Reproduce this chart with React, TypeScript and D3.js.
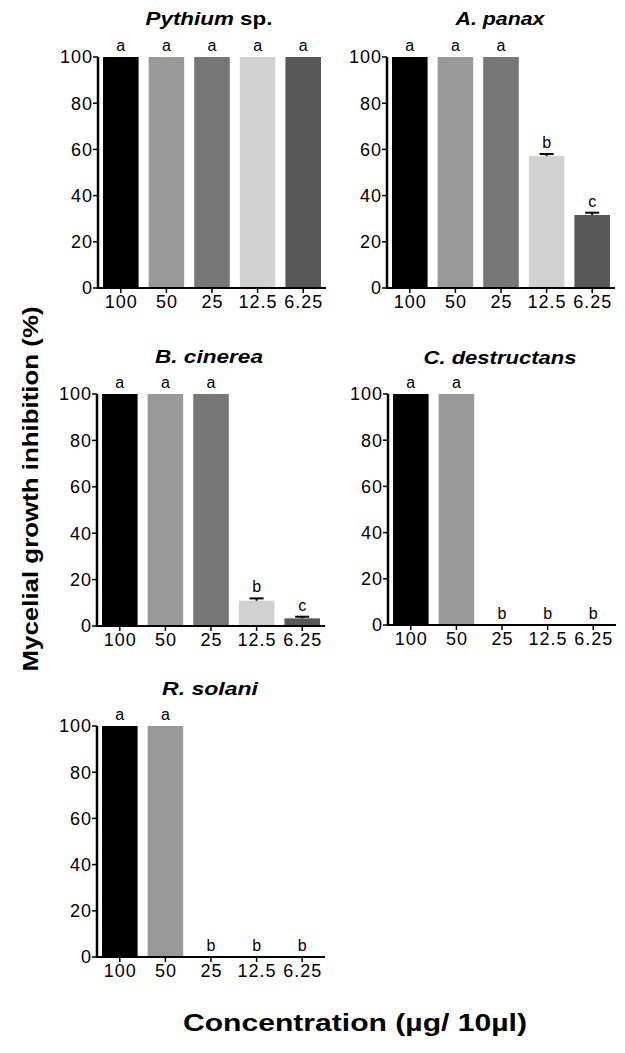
import React from "react";
import * as d3 from "d3";

const concentrations = ["100", "50", "25", "12.5", "6.25"];
const barColors = ["#000000", "#999999", "#777777", "#d2d2d2", "#585858"];

const pythiumValues = [100, 100, 100, 100, 100];
const pythiumErrors = [0, 0, 0, 0, 0];
const pythiumLetters = ["a", "a", "a", "a", "a"];

const panaxValues = [100, 100, 100, 57.1, 31.6];
const panaxErrors = [0, 0, 0, 0.9, 1.0];
const panaxLetters = ["a", "a", "a", "b", "c"];

const cinereaValues = [100, 100, 100, 10.9, 3.3];
const cinereaErrors = [0, 0, 0, 1.0, 0.7];
const cinereaLetters = ["a", "a", "a", "b", "c"];

const destructansValues = [100, 100, 0, 0, 0];
const destructansErrors = [0, 0, 0, 0, 0];
const destructansLetters = ["a", "a", "b", "b", "b"];

const solaniValues = [100, 100, 0, 0, 0];
const solaniErrors = [0, 0, 0, 0, 0];
const solaniLetters = ["a", "a", "b", "b", "b"];

const yTicks = [0, 20, 40, 60, 80, 100];

type Panel = {
  italic: string;
  plain: string;
  values: number[];
  errors: number[];
  letters: string[];
  x0: number;
  yTop: number;
  yBottom: number;
  titleCx: number;
  titleY: number;
  titleW: number;
};

const panels: Panel[] = [
  { italic: "Pythium", plain: " sp.", values: pythiumValues, errors: pythiumErrors, letters: pythiumLetters, x0: 98, yTop: 57, yBottom: 288, titleCx: 209, titleY: 25, titleW: 127 },
  { italic: "A. panax", plain: "", values: panaxValues, errors: panaxErrors, letters: panaxLetters, x0: 387, yTop: 57, yBottom: 288, titleCx: 500, titleY: 25, titleW: 89 },
  { italic: "B. cinerea", plain: "", values: cinereaValues, errors: cinereaErrors, letters: cinereaLetters, x0: 97, yTop: 394, yBottom: 626, titleCx: 209, titleY: 363, titleW: 108 },
  { italic: "C. destructans", plain: "", values: destructansValues, errors: destructansErrors, letters: destructansLetters, x0: 388, yTop: 394, yBottom: 625, titleCx: 500, titleY: 364, titleW: 153 },
  { italic: "R. solani", plain: "", values: solaniValues, errors: solaniErrors, letters: solaniLetters, x0: 97, yTop: 726, yBottom: 957, titleCx: 210, titleY: 695, titleW: 96 },
];

const FONT = "Liberation Sans, Arial, sans-serif";

function BarPanel({ p }: { p: Panel }) {
  const x = d3
    .scaleBand<string>()
    .domain(concentrations)
    .range([p.x0, p.x0 + 228])
    .paddingInner(0.22)
    .paddingOuter(0.11);
  const y = d3.scaleLinear().domain([0, 100]).range([p.yBottom, p.yTop]);
  const bw = x.bandwidth();
  return (
    <g>
      <text
        x={p.titleCx}
        y={p.titleY}
        textAnchor="middle"
        fontFamily={FONT}
        fontWeight="bold"
        fontSize={18}
        textLength={p.titleW}
        lengthAdjust="spacingAndGlyphs"
      >
        <tspan fontStyle="italic">{p.italic}</tspan>
        {p.plain ? <tspan>{p.plain}</tspan> : null}
      </text>
      {concentrations.map((c, i) => {
        const v = p.values[i];
        const e = p.errors[i];
        const bx = x(c)!;
        const cx = bx + bw / 2;
        const top = y(v + e);
        return (
          <g key={c}>
            {v > 0 && (
              <rect x={bx} y={y(v)} width={bw} height={y(0) - y(v)} fill={barColors[i]} />
            )}
            {e > 0 && (
              <g stroke="#000" strokeWidth={2}>
                <line x1={cx} x2={cx} y1={y(v)} y2={top} />
                <line x1={cx - 7} x2={cx + 7} y1={top} y2={top} />
              </g>
            )}
            <text
              x={cx}
              y={top - 6}
              textAnchor="middle"
              fontFamily={FONT}
              fontSize={16}
              fill="#000"
            >
              {p.letters[i]}
            </text>
            <line x1={cx} x2={cx} y1={p.yBottom} y2={p.yBottom + 5} stroke="#000" strokeWidth={1.5} />
            <text
              x={cx + 0.5}
              y={p.yBottom + 20}
              textAnchor="middle"
              fontFamily={FONT}
              fontSize={18}
              letterSpacing={1}
              fill="#000"
            >
              {c}
            </text>
          </g>
        );
      })}
      <line x1={p.x0} x2={p.x0} y1={p.yTop} y2={p.yBottom + 1} stroke="#000" strokeWidth={2.5} />
      <line x1={p.x0} x2={p.x0 + 228} y1={p.yBottom} y2={p.yBottom} stroke="#000" strokeWidth={2} />
      {yTicks.map((t) => (
        <g key={t}>
          <line x1={p.x0 - 5} x2={p.x0} y1={y(t)} y2={y(t)} stroke="#000" strokeWidth={1.5} />
          <text
            x={p.x0 - 5}
            y={y(t)}
            dy="0.36em"
            textAnchor="end"
            fontFamily={FONT}
            fontSize={18}
            letterSpacing={1}
            fill="#000"
          >
            {t}
          </text>
        </g>
      ))}
    </g>
  );
}

export default function App() {
  return (
    <svg width={625} height={1053} style={{ display: "block", position: "absolute", left: 0, top: 0 }}>
      <rect width={625} height={1053} fill="#fff" />
      {panels.map((p, i) => (
        <BarPanel key={i} p={p} />
      ))}
      <text
        transform="translate(38,489) rotate(-90)"
        textAnchor="middle"
        fontFamily={FONT}
        fontWeight="bold"
        fontSize={22}
        textLength={365}
        lengthAdjust="spacingAndGlyphs"
      >
        Mycelial growth inhibition (%)
      </text>
      <text
        x={355}
        y={1031}
        textAnchor="middle"
        fontFamily={FONT}
        fontWeight="bold"
        fontSize={24}
        textLength={344}
        lengthAdjust="spacingAndGlyphs"
      >
        Concentration (µg/ 10µl)
      </text>
    </svg>
  );
}
